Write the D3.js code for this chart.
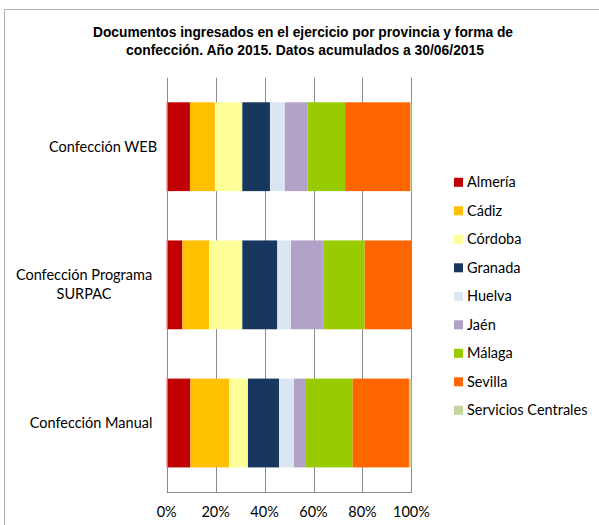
<!DOCTYPE html>
<html>
<head>
<meta charset="utf-8">
<script src="https://cdn.jsdelivr.net/npm/d3@7"></script>
<style>
  html, body { margin: 0; padding: 0; background: #fff; }
  svg { display: block; }
  .title { font-family: "Liberation Sans", Arial, sans-serif; font-weight: bold; font-size: 14.5px; fill: #000; }
  .lbl { font-family: Lato, "Open Sans", "Liberation Sans", sans-serif; font-size: 14.5px; fill: #000; }
</style>
</head>
<body>
<svg id="chart" width="599" height="525"></svg>
<script>
// Forms of submission (top to bottom)
const categories = ["Confección WEB", "Confección Programa SURPAC", "Confección Manual"];
// Provinces, in stacking order
const provinces = ["Almería", "Cádiz", "Córdoba", "Granada", "Huelva", "Jaén", "Málaga", "Sevilla", "Servicios Centrales"];
// Share (%) of documents by province, one array per form of submission
const webValues    = [9.5, 10.2, 11.2, 11.3, 6.1, 9.2, 15.4, 26.7, 0.4];
const surpacValues = [6.4, 11.0, 13.5, 14.3, 5.6, 13.4, 16.7, 19.1, 0.0];
const manualValues = [9.7, 15.8, 7.7, 12.7, 6.1, 4.9, 19.1, 23.0, 1.0];
const tickLabels = ["0%", "20%", "40%", "60%", "80%", "100%"];
const colors = ["#C00000", "#FFC000", "#FFFF99", "#17375E", "#DCE6F2", "#B3A2C7", "#99CC00", "#FF6600", "#C3D69B"];

const seriesByCategory = [webValues, surpacValues, manualValues];

const svg = d3.select("#chart");

// Outer chart frame (left and top edges)
svg.append("path")
  .attr("d", "M4.5,525 L4.5,9.5 L599,9.5")
  .attr("fill", "none").attr("stroke", "#b0b0b0");

// Title, condensed to the width of a narrow face
svg.append("text").attr("class", "title").attr("text-anchor", "middle")
  .attr("x", 303).attr("y", 37)
  .attr("textLength", 420).attr("lengthAdjust", "spacingAndGlyphs")
  .text("Documentos ingresados en el ejercicio por provincia y forma de");
svg.append("text").attr("class", "title").attr("text-anchor", "middle")
  .attr("x", 305).attr("y", 55)
  .attr("textLength", 358).attr("lengthAdjust", "spacingAndGlyphs")
  .text("confección. Año 2015. Datos acumulados a 30/06/2015");

const plot = { left: 166.7, right: 411.4, top: 77.7, bottom: 492 };

const x = d3.scaleLinear().domain([0, 100]).range([plot.left, plot.right]);
const y = d3.scaleBand().domain(categories).range([plot.top, plot.bottom]).paddingInner(0.357).paddingOuter(0.178);

// Vertical gridlines
const ticks = [0, 20, 40, 60, 80, 100];
svg.append("g")
  .selectAll("line").data(ticks.slice(1)).join("line")
  .attr("x1", d => Math.round(x(d)) + 0.5).attr("x2", d => Math.round(x(d)) + 0.5)
  .attr("y1", plot.top).attr("y2", plot.bottom)
  .attr("stroke", "#8c8c8c").attr("stroke-width", 1);

// Stacked bars
const stackData = categories.map((c, i) => {
  const o = { cat: c };
  provinces.forEach((p, j) => { o[p] = seriesByCategory[i][j]; });
  return o;
});
const stacked = d3.stack().keys(provinces)(stackData);

svg.append("g")
  .selectAll("g").data(stacked).join("g")
  .attr("fill", (d, i) => colors[i])
  .selectAll("rect").data(d => d).join("rect")
  .attr("x", d => x(d[0]))
  .attr("width", d => Math.max(0, x(d[1]) - x(d[0])))
  .attr("y", d => y(d.data.cat))
  .attr("height", y.bandwidth());

// Axes: left and bottom lines
const axisG = svg.append("g");
axisG.append("line")
  .attr("x1", Math.round(plot.left) + 0.5).attr("x2", Math.round(plot.left) + 0.5)
  .attr("y1", plot.top).attr("y2", plot.bottom)
  .attr("stroke", "#8c8c8c");
axisG.append("line")
  .attr("x1", plot.left).attr("x2", Math.round(plot.right) + 1)
  .attr("y1", Math.round(plot.bottom) + 0.5).attr("y2", Math.round(plot.bottom) + 0.5)
  .attr("stroke", "#8c8c8c");

// Tick labels
svg.append("g")
  .selectAll("text").data(ticks).join("text")
  .attr("class", "lbl")
  .attr("x", d => x(d)).attr("y", 517)
  .attr("text-anchor", "middle")
  .text((d, i) => tickLabels[i]);

// Category labels
const catLayout = {
  "Confección WEB": { cx: 103, lines: ["Confección WEB"] },
  "Confección Programa SURPAC": { cx: 84, lines: ["Confección Programa", "SURPAC"] },
  "Confección Manual": { cx: 91, lines: ["Confección Manual"] }
};
categories.forEach(c => {
  const { cx, lines } = catLayout[c];
  const cy = y(c) + y.bandwidth() / 2;
  const t = svg.append("text").attr("class", "lbl").attr("text-anchor", "middle");
  lines.forEach((ln, k) => {
    t.append("tspan")
      .attr("x", cx)
      .attr("y", cy + 5 + (k - (lines.length - 1) / 2) * 19)
      .text(ln);
  });
});

// Legend
const legend = svg.append("g");
provinces.forEach((p, i) => {
  const cy = 182.3 + i * 28.5;
  legend.append("rect")
    .attr("x", 454).attr("y", cy - 4.5).attr("width", 9).attr("height", 9)
    .attr("fill", colors[i]);
  legend.append("text").attr("class", "lbl")
    .attr("x", 467).attr("y", cy + 5)
    .text(p);
});
</script>
</body>
</html>
